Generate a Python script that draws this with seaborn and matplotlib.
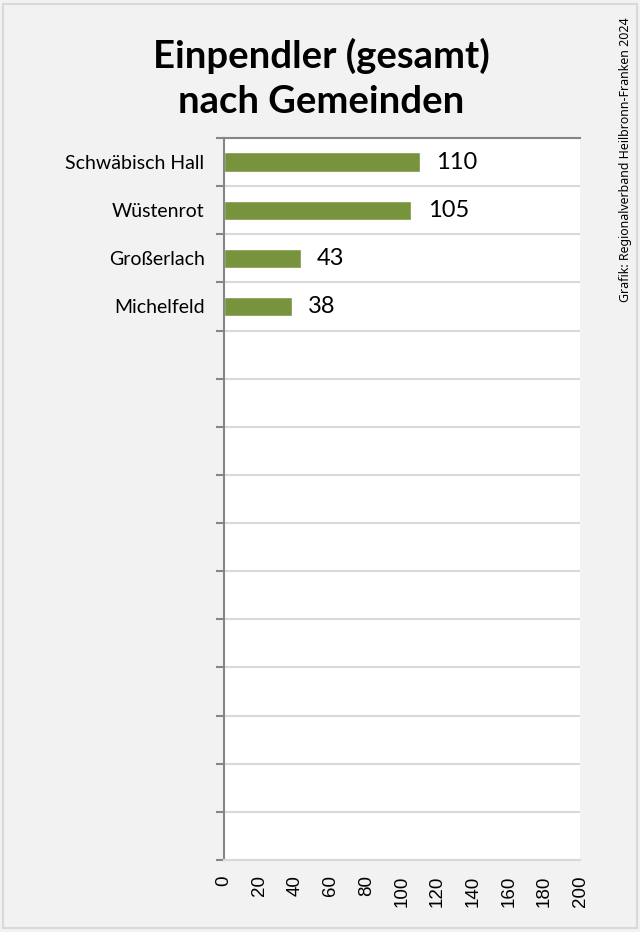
import numpy as np
import pandas as pd
import seaborn as sns
import matplotlib.pyplot as plt
from matplotlib.patches import Rectangle

gemeinden = ['Schwäbisch Hall', 'Wüstenrot', 'Großerlach', 'Michelfeld']
einpendler = [110, 105, 43, 38]
x_ticks = list(range(0, 201, 20))
n_rows = 15  # the chart reserves 15 rows, only 4 filled

BG = '#f2f2f2'
GREEN = '#77933c'
AXIS_GRAY = '#868686'
GRID_GRAY = '#d9d9d9'

df = pd.DataFrame({'gemeinde': gemeinden, 'einpendler': einpendler})

sns.set_style('white')
plt.rcParams['font.family'] = ['Lato', 'DejaVu Sans']
plt.rcParams['text.color'] = 'black'
plt.rcParams['xtick.color'] = 'black'
plt.rcParams['ytick.color'] = 'black'

fig = plt.figure(figsize=(6.4, 9.32), dpi=100, facecolor=BG)
fig.patches.append(Rectangle((0.005, 0.004), 0.99, 0.992, transform=fig.transFigure,
                             fill=False, edgecolor=GRID_GRAY, linewidth=1.5))
ax = fig.add_axes([0.35, 0.07725, 0.55625, 0.77468])
ax.set_facecolor('white')

sns.barplot(data=df, x='einpendler', y='gemeinde', orient='h', color=GREEN,
            width=0.4, saturation=1, ax=ax)
ax.bar_label(ax.containers[0], padding=12, fontsize=17, color='black')

ax.set_xlim(0, 200)
ax.set_ylim(n_rows - 0.5, -0.5)
ax.set_xticks(x_ticks)
ax.set_xticklabels([str(t) for t in x_ticks], rotation=90, family='Liberation Sans', fontsize=13.5)
ax.tick_params(axis='x', length=0, pad=11)

ax.set_yticks(np.arange(-0.5, n_rows), [''] * (n_rows + 1))
ax.set_yticks(range(len(gemeinden)), gemeinden, minor=True)
ax.tick_params(axis='y', which='major', length=6, width=1.5, color=AXIS_GRAY, direction='out', left=True)
ax.tick_params(axis='y', which='minor', length=0, pad=14, labelsize=14)
ax.yaxis.grid(True, which='major', color=GRID_GRAY, linewidth=1.5)
ax.set_axisbelow(True)
ax.set_xlabel('')
ax.set_ylabel('')

ax.spines['right'].set_visible(False)
ax.spines['left'].set_color(AXIS_GRAY)
ax.spines['left'].set_linewidth(1.5)
ax.spines['top'].set_color(AXIS_GRAY)
ax.spines['top'].set_linewidth(1.5)
ax.spines['bottom'].set_color(GRID_GRAY)
ax.spines['bottom'].set_linewidth(1.5)

fig.text(0.502, 0.916, 'Einpendler (gesamt)\nnach Gemeinden', ha='center', va='center',
         fontsize=27.5, fontweight='bold', linespacing=1.4)
fig.text(0.977, 0.981, 'Grafik: Regionalverband Heilbronn-Franken 2024', rotation=90,
         ha='center', va='top', fontsize=8.95, family='Noto Sans')

fig.savefig('out.png', dpi=100, facecolor=BG)
